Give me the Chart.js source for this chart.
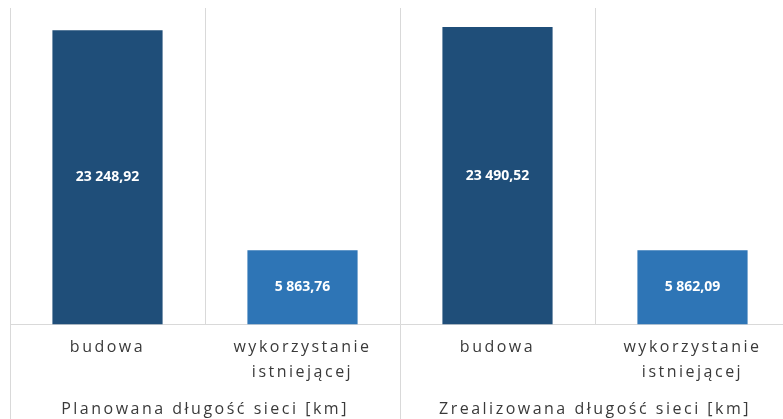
<!DOCTYPE html>
<html>
<head>
<meta charset="utf-8">
<script src="https://cdn.jsdelivr.net/npm/chart.js@4/dist/chart.umd.min.js"></script>
<style>
    html, body { margin: 0; padding: 0; background: #fff; overflow: hidden; }
    #wrap { width: 800px; height: 419px; }
</style>
</head>
<body>
<div id="wrap"><canvas id="lengthChart" width="800" height="419"></canvas></div>
<script>
// dane
const categories = ['budowa', ['wykorzystanie', 'istniejącej'], 'budowa', ['wykorzystanie', 'istniejącej']];
const groups = ['Planowana długość sieci [km]', 'Zrealizowana długość sieci [km]'];
const lengths = [23248.92, 5863.76, 23490.52, 5862.09];
const barColors = ['#1f4e79', '#2e75b6', '#1f4e79', '#2e75b6'];

const gridColor = '#d9d9d9';
const textColor = '#3a3a3a';

// format polski: spacja jako separator tysięcy, przecinek dziesiętny
function formatPl(v) {
    const parts = v.toFixed(2).split('.');
    return parts[0].replace(/\B(?=(\d{3})+(?!\d))/g, ' ') + ',' + parts[1];
}

// odstępy między literami jak w oryginale
const letterSpacingPlugin = {
    id: 'letterSpacing',
    beforeDraw(chart) {
        chart.ctx.letterSpacing = '2.5px';
    }
};

// przedłużenie linii grup do dołu obrazka
const groupLinesPlugin = {
    id: 'groupLines',
    afterDraw(chart) {
        const xs = chart.scales.x;
        const half = (xs.getPixelForValue(1) - xs.getPixelForValue(0)) / 2;
        const bounds = [xs.getPixelForValue(0) - half, xs.getPixelForValue(2) - half, xs.getPixelForValue(3) + half];
        const ctx = chart.ctx;
        ctx.save();
        ctx.strokeStyle = gridColor;
        ctx.lineWidth = 1;
        bounds.forEach(function(b) {
            const px = Math.round(b) + 0.5;
            ctx.beginPath();
            ctx.moveTo(px, chart.chartArea.bottom);
            ctx.lineTo(px, chart.height);
            ctx.stroke();
        });
        ctx.restore();
    }
};

// etykiety wartości w środku słupków
const valueLabelsPlugin = {
    id: 'valueLabels',
    afterDatasetsDraw(chart) {
        const ctx = chart.ctx;
        const meta = chart.getDatasetMeta(0);
        ctx.save();
        ctx.letterSpacing = '0px';
        ctx.font = 'bold 14px "Open Sans", sans-serif';
        ctx.fillStyle = '#ffffff';
        ctx.textAlign = 'center';
        ctx.textBaseline = 'middle';
        meta.data.forEach(function(bar, i) {
            ctx.fillText(formatPl(lengths[i]), bar.x, (bar.y + bar.base) / 2);
        });
        ctx.restore();
    }
};

const ctx = document.getElementById('lengthChart').getContext('2d');
new Chart(ctx, {
    type: 'bar',
    data: {
        labels: categories,
        datasets: [{
            data: lengths,
            backgroundColor: barColors,
            borderWidth: 0,
            categoryPercentage: 1,
            barPercentage: 0.565
        }]
    },
    options: {
        responsive: false,
        animation: false,
        layout: { padding: { left: 10, right: 10, top: 8, bottom: -3 } },
        plugins: {
            legend: { display: false },
            tooltip: { enabled: false }
        },
        scales: {
            x: {
                grid: { offset: true, color: gridColor, drawTicks: false },
                border: { display: true, color: gridColor },
                ticks: {
                    color: textColor,
                    font: { family: '"Open Sans", sans-serif', size: 16, lineHeight: 1.55 },
                    padding: 11,
                    maxRotation: 0,
                    autoSkip: false
                }
            },
            groups: {
                type: 'category',
                labels: groups,
                position: 'bottom',
                offset: true,
                grid: { display: false, drawTicks: false },
                border: { display: false },
                ticks: {
                    color: textColor,
                    font: { family: '"Open Sans", sans-serif', size: 16, lineHeight: 1.25 },
                    padding: 3,
                    maxRotation: 0,
                    autoSkip: false
                }
            },
            y: {
                display: false,
                min: 0,
                max: 25000
            }
        }
    },
    plugins: [letterSpacingPlugin, groupLinesPlugin, valueLabelsPlugin]
});
</script>
</body>
</html>
